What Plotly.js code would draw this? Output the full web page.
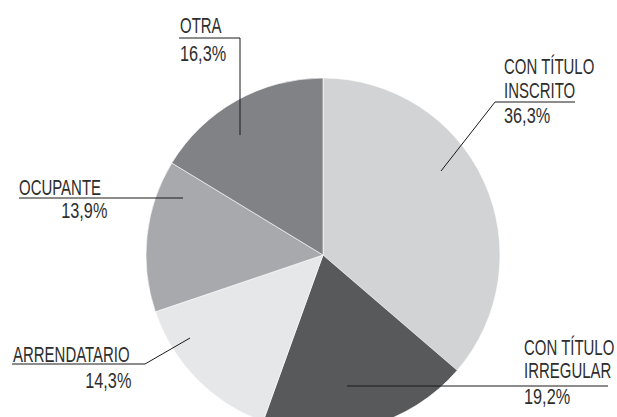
<!DOCTYPE html>
<html>
<head>
<meta charset="utf-8">
<script src="https://cdn.plot.ly/plotly-3.0.1.min.js"></script>
<style>
html,body{margin:0;padding:0;width:617px;height:417px;overflow:hidden;background:#fff;}
#chart{width:617px;height:440px;}
</style>
</head>
<body>
<div id="chart"></div>
<script>
// ---- data ----
var categories = ["CON TÍTULO INSCRITO", "CON TÍTULO IRREGULAR", "ARRENDATARIO", "OCUPANTE", "OTRA"];
var shares = [36.3, 19.2, 14.3, 13.9, 16.3];
var sliceColors = ["#d1d3d4", "#58595b", "#e6e7e8", "#a7a9ac", "#808285"];
var labelLines = [["CON TÍTULO", "INSCRITO"], ["CON TÍTULO", "IRREGULAR"], ["ARRENDATARIO"], ["OCUPANTE"], ["OTRA"]];

function pct(v){ return v.toFixed(1).replace('.', ',') + '%'; }

var W = 617, H = 440;
function fx(p){ return p / W; }
function fy(p){ return 1 - p / H; }

var FONT = {family: "'Liberation Sans', Arial, sans-serif", size: 22, color: "#2e2e2e"};
var SQUEEZE_WORD = 0.68, SQUEEZE_NUM = 0.74;

// label layout: x, anchor, cap-centre y for each line incl. percentage
var labelPos = [
  {x: 503, anchor: "left",  ys: [66, 90, 115], pctX: 503, pctAnchor: "left"},
  {x: 523, anchor: "left",  ys: [347.5, 370.5, 396.5], pctX: 523, pctAnchor: "left"},
  {x: 12,  anchor: "left",  ys: [354, 380], pctX: 132, pctAnchor: "right"},
  {x: 18,  anchor: "left",  ys: [187.5, 211], pctX: 108, pctAnchor: "right"},
  {x: 179, anchor: "left",  ys: [26, 53], pctX: 179, pctAnchor: "left"}
];

var annotations = [];
var squeezes = [];
categories.forEach(function(c, i){
  var lp = labelPos[i];
  var lines = labelLines[i];
  lines.forEach(function(t, j){
    annotations.push({xref:"paper", yref:"paper", x: fx(lp.x), y: fy(lp.ys[j]), xanchor: lp.anchor, yanchor: "middle",
      text: t, showarrow: false, font: FONT, borderpad: 0});
    squeezes.push(SQUEEZE_WORD);
  });
  annotations.push({xref:"paper", yref:"paper", x: fx(lp.pctX), y: fy(lp.ys[lines.length]), xanchor: lp.pctAnchor, yanchor: "middle",
    text: pct(shares[i]), showarrow: false, font: FONT, borderpad: 0});
  squeezes.push(SQUEEZE_NUM);
});

// leader lines (pixel segments)
var segs = [
  [575,102,495,102],[495,102,441,171],
  [347,386,608,386],
  [12,364,145,364],[145,364,190,338],
  [19,198,183,198],
  [179,38,240,38],[240,38,240,135]
];
var shapes = segs.map(function(s){
  return {type:"line", xref:"paper", yref:"paper", x0: fx(s[0]), y0: fy(s[1]), x1: fx(s[2]), y1: fy(s[3]),
    line:{color:"#1a1a1a", width:1}};
});

var trace = {
  type: "pie",
  labels: categories,
  values: shares,
  sort: false,
  direction: "clockwise",
  rotation: 0,
  textinfo: "none",
  hoverinfo: "none",
  marker: {colors: sliceColors, line: {color: "#ffffff", width: 0.6}},
  domain: {x: [146/W, 500/W], y: [1 - 432/H, 1 - 78/H]},
  showlegend: false
};

var layout = {
  width: W, height: H,
  margin: {l:0, r:0, t:0, b:0},
  paper_bgcolor: "#ffffff",
  showlegend: false,
  annotations: annotations,
  shapes: shapes
};

Plotly.newPlot("chart", [trace], layout, {displayModeBar: false, staticPlot: true}).then(function(gd){
  // condense annotation text horizontally (the reference uses a condensed face)
  var groups = gd.querySelectorAll("g.annotation");
  groups.forEach(function(g, i){
    var t = g.querySelector("text.annotation-text");
    if (!t) return;
    var anchor = annotations[i] ? annotations[i].xanchor : "left";
    t.style.transformBox = "fill-box";
    t.style.transformOrigin = (anchor === "right" ? "right" : "left") + " center";
    t.style.transform = "scaleX(" + (squeezes[i] || SQUEEZE_WORD) + ")";
  });
});
</script>
</body>
</html>
